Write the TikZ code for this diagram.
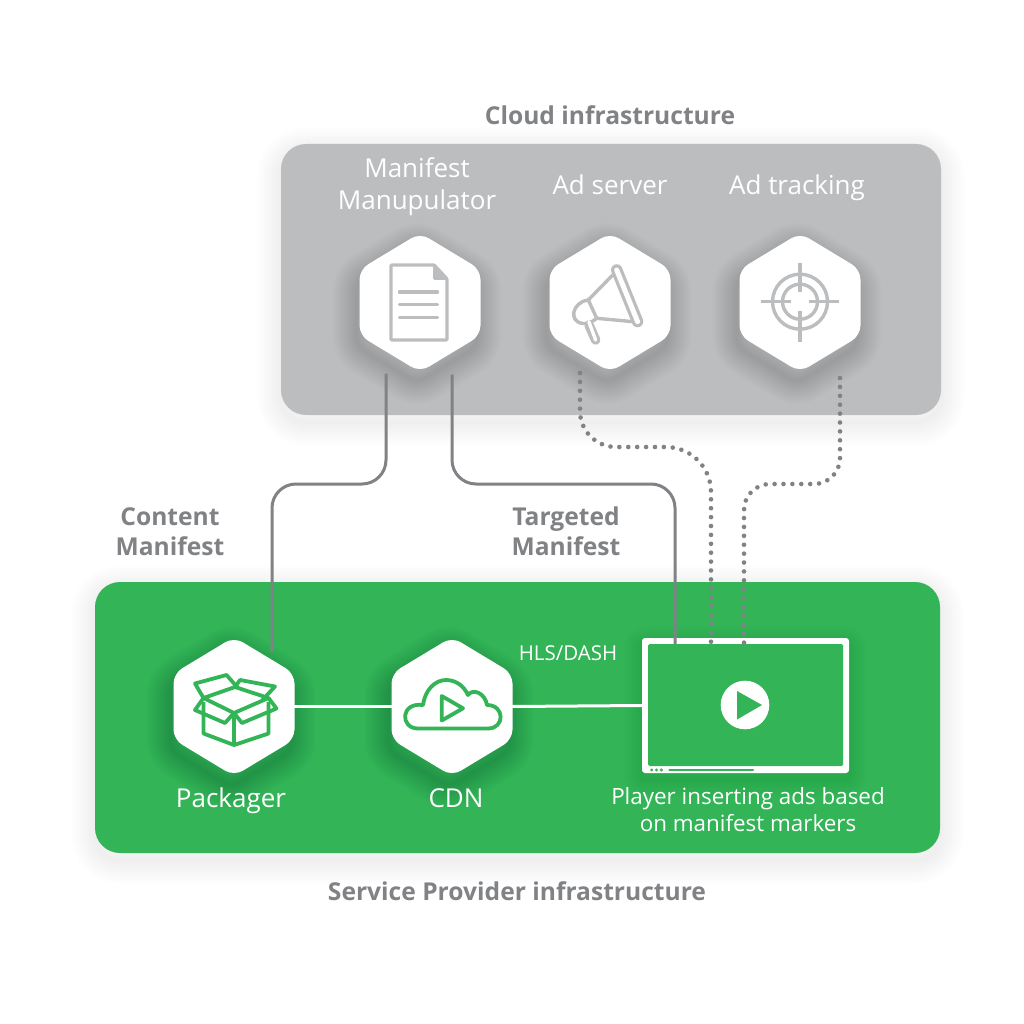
\documentclass[tikz,border=0pt]{standalone}
\usepackage{fontspec}
\setmainfont{Open Sans}
\usetikzlibrary{calc}
\definecolor{panelgray}{HTML}{BBBDBF}
\definecolor{linegray}{HTML}{808285}
\definecolor{panelgreen}{HTML}{32B457}
\newcommand{\sz}[2]{\fontsize{#1}{#2}\selectfont}
\tikzset{
  x=1pt,y=-1pt,
  anchornode/.style={inner sep=0pt,outer sep=0pt,minimum width=120pt,minimum height=132pt},
  hexfill/.style={fill=white,rounded corners=10pt},
  graytitle/.style={text=linegray,font=\sz{24.6}{29.5}\bfseries,align=center},
  whitelabel/.style={text=white,font=\sz{26}{32},align=center},
  wire/.style={draw=linegray,line width=3pt,rounded corners=24pt},
  dotwire/.style={draw=linegray,line width=4.6pt,line cap=round,dash pattern=on 0pt off 8.9pt},
  whitewire/.style={draw=white,line width=3pt},
  grayicon/.style={draw=panelgray,line width=3.4pt,line join=round},
  greenicon/.style={draw=panelgreen,line width=3.8pt,line join=round},
}
% soft shadow by stacked translucent strokes
\newcommand{\softshadow}[5]{% dx dy maxwidth opacity path
  \foreach \w in {3,6,...,#3}{
    \draw[black,opacity=#4,line width=\w pt,line join=round,xshift=#1pt,yshift=-#2pt] #5;
  }
}
\newcommand{\hexoutline}{(60.5,0) -- (60.5,33) -- (0,69.5) -- (-60.5,33) -- (-60.5,-33) -- (0,-69.5) -- (60.5,-33) -- cycle}
\newcommand{\hexagon}[3]{% name x y
  \begin{scope}[shift={(#2,#3)}]
    \softshadow{-3}{11}{48}{0.0065}{[rounded corners=10pt]\hexoutline}
    \fill[hexfill] \hexoutline;
  \end{scope}
  \node[anchornode] (#1) at (#2,#3) {};
}
\begin{document}
\begin{tikzpicture}
\useasboundingbox (0,0) rectangle (1024,1024);
\fill[white] (0,0) rectangle (1024,1024);

% panels
\softshadow{0}{7}{48}{0.005}{[rounded corners=25pt] (281,144) rectangle (941,415)}
\softshadow{0}{7}{48}{0.005}{[rounded corners=25pt] (95,582) rectangle (940,853)}
\fill[panelgray,rounded corners=25pt] (281,144) rectangle (941,415);
\fill[panelgreen,rounded corners=25pt] (95,582) rectangle (940,853);

% hexagons
\hexagon{mm}{420}{302.5}
\hexagon{adserver}{610}{302.5}
\hexagon{adtrack}{800}{302.5}
\hexagon{pack}{234}{706.5}
\hexagon{cdn}{452}{706.5}

% player
\node[inner sep=0pt,minimum width=207pt,minimum height=135pt] (player) at (745.5,705.5) {};
\softshadow{0}{6}{36}{0.005}{[rounded corners=3pt] (642,638) rectangle (849,773)}
\fill[white,rounded corners=3pt] (642,638) rectangle (849,773);
\fill[panelgreen,rounded corners=1.5pt] (648,644) rectangle (843,766);
\fill[white] (745,705) circle (24.3);
\fill[panelgreen] (737,691) -- (762,705) -- (737,719.5) -- cycle;
\foreach \dx in {651.7,656.5,661.3}{\fill[panelgreen] (\dx,770) circle (1.7);}
\draw[panelgreen,line width=2.4pt,line cap=round] (669.5,770) -- (753,770);

% connectors
\coordinate (a1) at ([xshift=-34pt,yshift=-5pt]mm.south);
\coordinate (a2) at ([xshift=32pt,yshift=-6pt]mm.south);
\coordinate (packtop) at ([xshift=38pt,yshift=-11.5pt]pack.north);
\coordinate (playtop) at ([xshift=-70.5pt,yshift=-6pt]player.north);
\draw[wire] (a1) -- (a1 |- 0,484) -- (packtop |- 0,484) -- (packtop);
\draw[wire] (a2) -- (a2 |- 0,484) -- (playtop |- 0,484) -- (playtop);

\coordinate (d1) at ([xshift=-30pt,yshift=-4.5pt]adserver.south);
\coordinate (d1end) at ([xshift=-34.5pt,yshift=-7pt]player.north);
\coordinate (d2) at ([xshift=40pt,yshift=-9.5pt]adtrack.south);
\coordinate (d2end) at ([xshift=-1.5pt,yshift=-7pt]player.north);
\draw[dotwire] (d1) [rounded corners=36pt] -- (d1 |- 0,447) [rounded corners=45pt] -- (d1end |- 0,447) -- (d1end);
\draw[dotwire,rounded corners=26pt] (d2) -- (d2 |- 0,484) -- (d2end |- 0,484) -- (d2end);

\draw[whitewire] (pack.east) -- (cdn.west);
\draw[whitewire] (cdn.east) -- (player.west);

% document icon
\draw[grayicon,rounded corners=1pt] (391,265) -- (434,265) -- (447,279) -- (447,340) -- (391,340) -- cycle;
\draw[grayicon,line width=2.4pt] (434.5,266) -- (434.5,278.5) -- (447,278.5);
\fill[panelgray] (434.5,268) -- (434.5,278.5) -- (445,278.5) -- cycle;
\foreach \yy in {291.8,304.5,317.3}{\draw[grayicon,line cap=round] (399.5,\yy) -- (437.5,\yy);}

% megaphone icon
\draw[grayicon] (588.3,300) -- (612.7,275);
\draw[grayicon] (596.7,318.3) -- (633.3,321.7);
\draw[grayicon] (588.3,300) -- (596.7,318.3);
\draw[grayicon] (588.3,300) .. controls (572,302) and (568,322) .. (583,323.5) .. controls (588,324) and (592,322) .. (596.7,318.3);
\draw[panelgray,line width=11.5pt,line cap=round] (616.7,270) -- (637.5,321.5);
\draw[white,line width=5pt,line cap=round] (616.7,270) -- (637.5,321.5);
\draw[panelgray,line width=9.5pt,line cap=round] (589,325) -- (595.6,340);
\draw[white,line width=3.4pt,line cap=round] (589,322) -- (595.6,340);

% target icon
\draw[grayicon] (800,301.7) circle (27.5);
\draw[grayicon] (800,301.7) circle (17.5);
\foreach \p/\q in {760.7/790.7,809.3/839.3}{\draw[grayicon] (\p,301.7) -- (\q,301.7);}
\foreach \p/\q in {262.7/291.7,310.7/341.7}{\draw[grayicon] (800,\p) -- (800,\q);}

% box icon
\draw[greenicon] (203.5,702) -- (203.5,733.5) -- (234,745) -- (268.5,733.5) -- (268.5,702);
\draw[greenicon] (234,713) -- (234,745);
\draw[greenicon] (203.5,698) -- (235,687) -- (268.5,698) -- (234,713) -- cycle;
\draw[greenicon] (203.5,698) -- (195,710) -- (225,723) -- (234,713);
\draw[greenicon] (268.5,698) -- (276.5,708.5) -- (242,723) -- (234,713);
\draw[greenicon] (203.5,698) -- (195,683.5) -- (226.5,675) -- (238,688);
\draw[greenicon] (235,687) -- (240,680) -- (275,686.5) -- (262,700.5);

% cloud icon
\draw[greenicon] (418,728.5) -- (488,728.5) .. controls (505,728.5) and (505,705) .. (487,705)
  .. controls (485,693) and (473,688) .. (468,695)
  .. controls (463,684) and (454,680) .. (446,680)
  .. controls (435,680) and (425,690) .. (423,705)
  .. controls (400,702) and (400,728.5) .. (418,728.5) -- cycle;
\draw[greenicon] (441.7,696) -- (463,708.3) -- (441.7,720.5) -- cycle;

% labels
\node[graytitle,anchor=base] (t1) at (610,124.5) {Cloud infrastructure};
\node[graytitle,anchor=base] (t2) at (517,900.5) {Service Provider infrastructure};
\node[graytitle] (t3) at (170,531.5) {Content\\Manifest};
\node[graytitle] (t4) at (566,531.5) {Targeted\\Manifest};
\node[whitelabel] (l1) at (417,187) {Manifest\\Manupulator};
\node[whitelabel,anchor=base] (l2) at (610,195) {Ad server};
\node[whitelabel,anchor=base] (l3) at (797,195) {Ad tracking};
\node[whitelabel,font=\sz{20.5}{24},anchor=base] (l4) at (568,660.5) {HLS/DASH};
\node[whitelabel,anchor=base] (l5) at (231,807) {Packager};
\node[whitelabel,anchor=base] (l6) at (456,807) {CDN};
\node[whitelabel,font=\sz{22.4}{27}] (l7) at (748,809.5) {Player inserting ads based\\on manifest markers};
\end{tikzpicture}
\end{document}
